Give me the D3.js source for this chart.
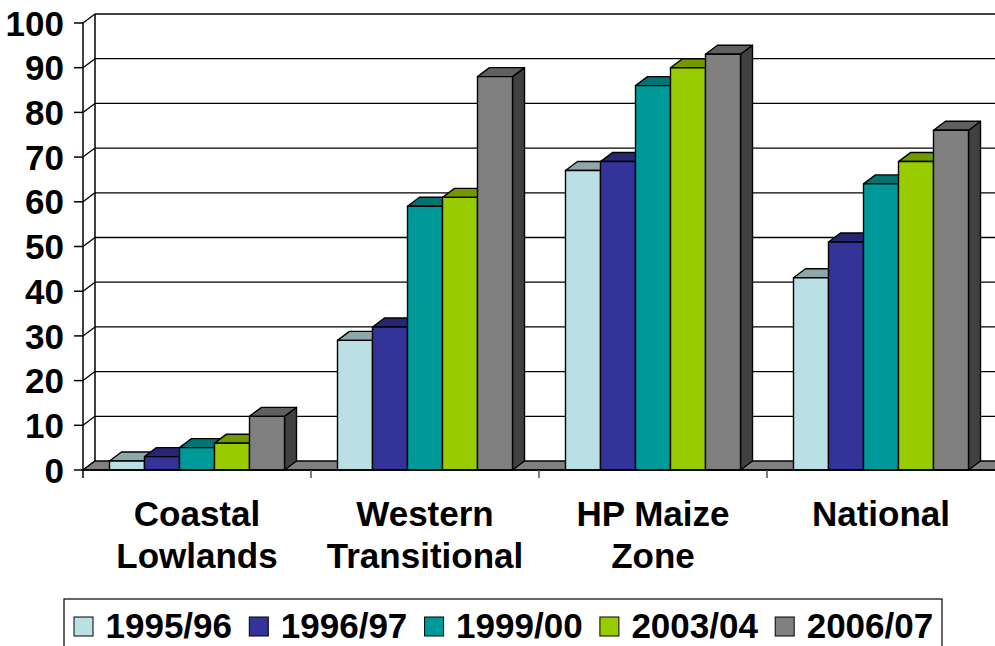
<!DOCTYPE html>
<html>
<head>
<meta charset="utf-8">
<script src="https://cdn.jsdelivr.net/npm/d3@7/dist/d3.min.js"></script>
<style>
  html, body { margin: 0; padding: 0; background: #fff; }
  svg { display: block; font-family: "Liberation Sans", Arial, sans-serif; font-weight: bold; }
</style>
</head>
<body>
<svg id="chart" width="995" height="646"></svg>
<script>
// Regions (categories), survey years (series) and values per region
const categories = [["Coastal", "Lowlands"], ["Western", "Transitional"], ["HP Maize", "Zone"], ["National"]];
const series = ["1995/96", "1996/97", "1999/00", "2003/04", "2006/07"];
const values1995 = [2, 29, 67, 43];
const values1996 = [3, 32, 69, 51];
const values1999 = [5, 59, 86, 64];
const values2003 = [6, 61, 90, 69];
const values2006 = [12, 88, 93, 76];
const yTicks = [0, 10, 20, 30, 40, 50, 60, 70, 80, 90, 100];

const seriesValues = [values1995, values1996, values1999, values2003, values2006];
const frontColors = ["#BBE0E3", "#333399", "#009999", "#99CC00", "#808080"];
const topColors   = ["#8DA8AA", "#262673", "#007373", "#739900", "#606060"];
const sideColors  = ["#5E7072", "#1A1A4D", "#004D4D", "#4D6600", "#404040"];

const svg = d3.select("#chart");
const left = 83, right = 995, base = 470;
const dx = 12, dy = -9;   // depth offset of the 3-D box

const catNames = categories.map(c => c.join(" "));
const x0 = d3.scaleBand().domain(catNames).range([left, right]).padding(0);
const x1 = d3.scaleBand().domain(series).range([0, x0.bandwidth()]).paddingInner(0).paddingOuter(0.757);
const y = d3.scaleLinear().domain([0, 100]).range([base, 23]);

// Back wall gridlines
svg.append("g").selectAll("line").data(yTicks.filter(t => t > 0)).join("line")
  .attr("x1", left + dx).attr("x2", right)
  .attr("y1", d => y(d) + dy).attr("y2", d => y(d) + dy)
  .attr("stroke", "#000").attr("stroke-width", 1.3);

// Side wall: gridline diagonals plus front and back edges
svg.append("g").selectAll("line").data(yTicks).join("line")
  .attr("x1", left).attr("x2", left + dx)
  .attr("y1", d => y(d)).attr("y2", d => y(d) + dy)
  .attr("stroke", "#000").attr("stroke-width", 1.3);
svg.append("line").attr("x1", left + dx).attr("x2", left + dx)
  .attr("y1", y(100) + dy).attr("y2", base + dy).attr("stroke", "#000").attr("stroke-width", 1.5);

// Floor
svg.append("path")
  .attr("d", `M${left},${base}L${right + dx},${base}L${right + dx},${base + dy}L${left + dx},${base + dy}Z`)
  .attr("fill", "#808080").attr("stroke", "#000").attr("stroke-width", 1.3);

// Bars
const bars = svg.append("g");
categories.forEach((cat, ci) => {
  series.forEach((s, si) => {
    const v = seriesValues[si][ci];
    const bx = x0(catNames[ci]) + x1(s);
    const bw = x1.bandwidth();
    const yt = y(v);
    const g = bars.append("g").attr("stroke", "#000").attr("stroke-width", 1.4).attr("stroke-linejoin", "round");
    g.append("path")
      .attr("d", `M${bx + bw},${yt}L${bx + bw + dx},${yt + dy}L${bx + bw + dx},${base + dy}L${bx + bw},${base}Z`)
      .attr("fill", sideColors[si]);
    g.append("path")
      .attr("d", `M${bx},${yt}L${bx + dx},${yt + dy}L${bx + bw + dx},${yt + dy}L${bx + bw},${yt}Z`)
      .attr("fill", topColors[si]);
    g.append("rect")
      .attr("x", bx).attr("y", yt).attr("width", bw).attr("height", base - yt)
      .attr("fill", frontColors[si]);
  });
});

// Front vertical axis
svg.append("line").attr("x1", left).attr("x2", left)
  .attr("y1", y(100)).attr("y2", base + 8).attr("stroke", "#000").attr("stroke-width", 1.5);
const yAxis = svg.append("g");
yAxis.selectAll("line").data(yTicks).join("line")
  .attr("x1", left - 9).attr("x2", left)
  .attr("y1", d => y(d)).attr("y2", d => y(d))
  .attr("stroke", "#000").attr("stroke-width", 1.5);
yAxis.selectAll("text").data(yTicks).join("text")
  .attr("x", 64).attr("y", d => y(d)).attr("dy", "0.36em")
  .attr("text-anchor", "end").attr("font-size", 35).text(d => d);

// Category axis
svg.append("line").attr("x1", left).attr("x2", right).attr("y1", base).attr("y2", base)
  .attr("stroke", "#000").attr("stroke-width", 1.5);
svg.append("g").selectAll("line").data(catNames.slice(1)).join("line")
  .attr("x1", d => x0(d)).attr("x2", d => x0(d))
  .attr("y1", base).attr("y2", base + 8)
  .attr("stroke", "#555").attr("stroke-width", 1.5);
const catLabels = svg.append("g");
categories.forEach((cat, ci) => {
  const t = catLabels.append("text")
    .attr("x", x0(catNames[ci]) + x0.bandwidth() / 2).attr("y", 526)
    .attr("text-anchor", "middle").attr("font-size", 35);
  cat.forEach((line, li) => {
    t.append("tspan").attr("x", x0(catNames[ci]) + x0.bandwidth() / 2)
      .attr("dy", li === 0 ? 0 : 42).text(line);
  });
});

// Legend
const legend = svg.append("g");
legend.append("rect").attr("x", 64).attr("y", 599).attr("width", 878).attr("height", 70)
  .attr("fill", "#fff").attr("stroke", "#000").attr("stroke-width", 1.2);
series.forEach((s, si) => {
  const lx = 74 + si * 175.3;
  legend.append("rect").attr("x", lx).attr("y", 617).attr("width", 19).attr("height", 19)
    .attr("fill", frontColors[si]).attr("stroke", "#000").attr("stroke-width", 1);
  legend.append("text").attr("x", lx + 31.5).attr("y", 638).attr("font-size", 35).text(s);
});
</script>
</body>
</html>
